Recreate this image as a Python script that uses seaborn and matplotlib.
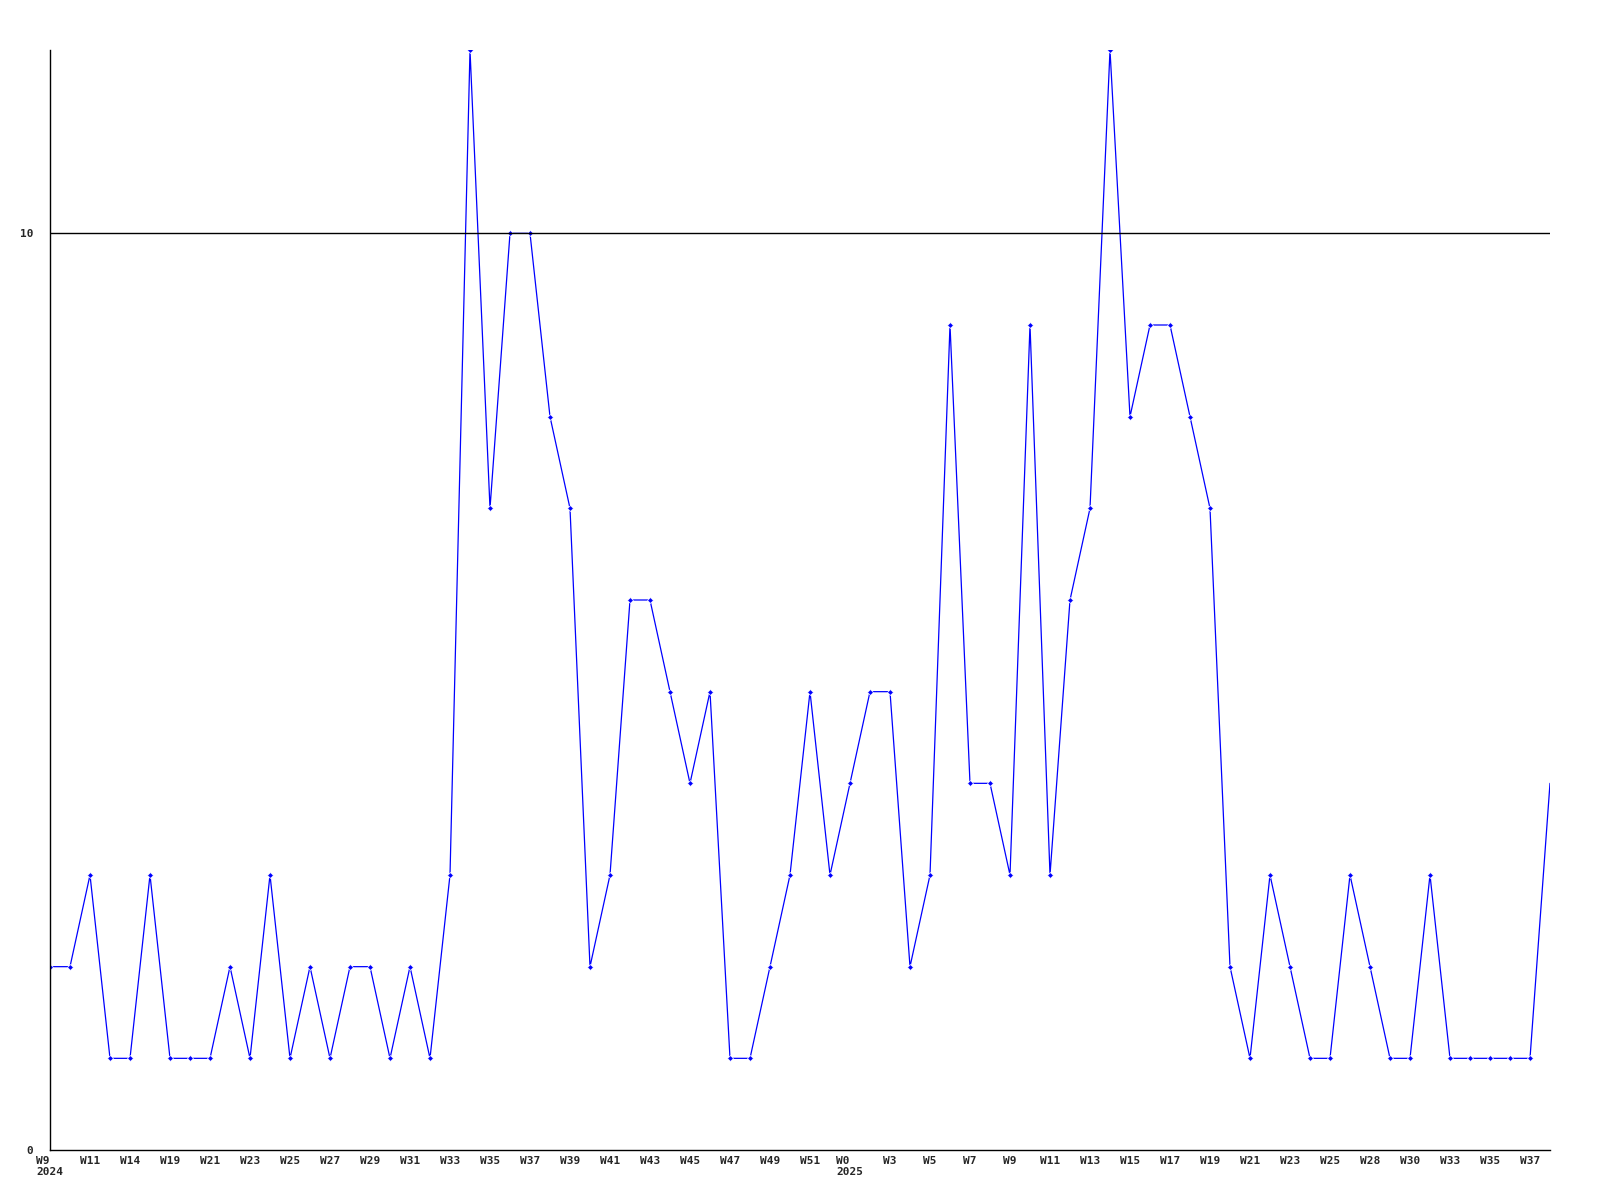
import numpy as np
import pandas as pd
import matplotlib
matplotlib.use('Agg')
import matplotlib.pyplot as plt
import seaborn as sns

# weekly counts, one per week
counts = [2, 2, 3, 1, 1, 3, 1, 1, 1, 2, 1, 3, 1, 2, 1, 2, 2, 1, 2, 1,
          3, 12, 7, 10, 10, 8, 7, 2, 3, 6, 6, 5, 4, 5, 1, 1, 2, 3, 5, 3,
          4, 5, 5, 2, 3, 9, 4, 4, 3, 9, 3, 6, 7, 12, 8, 9, 9, 8, 7, 2,
          1, 3, 2, 1, 1, 3, 2, 1, 1, 3, 1, 1, 1, 1, 1, 4]

# labels shown on every second week
tick_labels = ['W9\n2024', 'W11', 'W14', 'W19', 'W21', 'W23', 'W25', 'W27', 'W29', 'W31',
               'W33', 'W35', 'W37', 'W39', 'W41', 'W43', 'W45', 'W47', 'W49', 'W51',
               'W0\n2025', 'W3', 'W5', 'W7', 'W9', 'W11', 'W13', 'W15', 'W17', 'W19',
               'W21', 'W23', 'W25', 'W28', 'W30', 'W33', 'W35', 'W37']

df = pd.DataFrame({'week': np.arange(len(counts)), 'count': counts})

sns.set_style('white')
plt.rcParams['font.family'] = ['DejaVu Sans Mono']

fig = plt.figure(figsize=(16, 12), dpi=100)
ax = fig.add_axes([50 / 1600, 50 / 1200, 1500 / 1600, 1100 / 1200])

sns.lineplot(x='week', y='count', data=df, color='#0000ff', linewidth=0.9,
             marker='D', markersize=3, markeredgewidth=0.5,
             markevery=list(range(len(counts) - 1)), ax=ax)

ax.axhline(10, color='black', linewidth=1)

ax.set_xlim(0, len(counts) - 1)
ax.set_ylim(0, 12)
ax.set_yticks([0, 10])
ax.set_yticklabels(['0', '10'], fontsize=8, fontweight='bold')
ax.set_xticks(np.arange(0, len(counts) - 1, 2))
ax.set_xticklabels(tick_labels, fontsize=8, fontweight='bold', multialignment='left')
ax.tick_params(axis='both', length=0)
ax.tick_params(axis='y', pad=12)
ax.tick_params(axis='x', pad=4)
ax.set_xlabel('')
ax.set_ylabel('')

for side in ['top', 'right']:
    ax.spines[side].set_visible(False)
for side in ['left', 'bottom']:
    ax.spines[side].set_color('black')
    ax.spines[side].set_linewidth(1)

fig.savefig('out.png', dpi=100, facecolor='white')
